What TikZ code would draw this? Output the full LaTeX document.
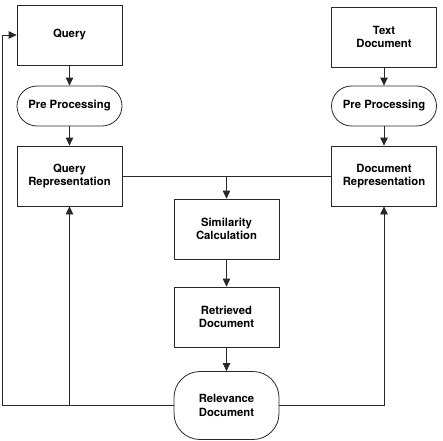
\documentclass[tikz,border=0pt]{standalone}
\usepackage{fontspec}
\setmainfont{TeX Gyre Heros}
\usepackage{tikz}
\definecolor{linegray}{RGB}{40, 40, 40}
\usetikzlibrary{arrows.meta, positioning, calc}

\tikzset{
    stepbox/.style={draw=linegray, line width=0.8pt, minimum width=105pt,
        minimum height=60pt, align=center, inner sep=2pt,
        font=\bfseries\fontsize{11.3}{13.5}\selectfont},
    pill/.style={stepbox, rounded corners=20pt, minimum height=40pt},
    flow/.style={draw=linegray, line width=0.8pt},
    arr/.style={flow, -{Triangle[length=8pt, width=7.5pt]}}
}

\begin{document}
\begin{tikzpicture}[x=1pt, y=-1pt]
    \useasboundingbox (0,0) rectangle (443,440);

    % left column
    \node[stepbox] (query) at (69.5,35) {Query};
    \node[pill] (preq) at (69.5,106) {Pre Processing};
    \node[stepbox] (qrep) at (69.5,176) {Query\\Representation};

    % right column
    \node[stepbox] (textdoc) at (384,37) {Text\\Document};
    \node[pill] (predoc) at (384,106) {Pre Processing};
    \node[stepbox] (drep) at (384,176) {Document\\Representation};

    % middle column
    \node[stepbox] (sim) at (226.5,229) {Similarity\\Calculation};
    \node[stepbox] (retr) at (226.5,317) {Retrieved\\Document};
    \node[stepbox, rounded corners=26pt, minimum height=68pt] (relev) at (226.5,405.5) {Relevance\\Document};

    \coordinate (join) at (sim.north |- qrep.east);
    \coordinate (back) at (2,0);

    \draw[arr] (query) -- (preq);
    \draw[arr] (preq) -- (qrep);
    \draw[arr] (textdoc) -- (predoc);
    \draw[arr] (predoc) -- (drep);

    \draw[flow] (qrep.east) -- (drep.west);
    \draw[arr] (join) -- (sim);
    \draw[arr] (sim) -- (retr);
    \draw[arr] (retr) -- (relev);

    % feedback
    \draw[flow] (relev.west) -- (back |- relev.west);
    \draw[arr] (back |- relev.west) -- (back |- query.west) -- (query.west);
    \draw[arr] (qrep.south |- relev.west) -- (qrep.south);
    \draw[arr] (relev.east) -| (drep.south);
\end{tikzpicture}
\end{document}
